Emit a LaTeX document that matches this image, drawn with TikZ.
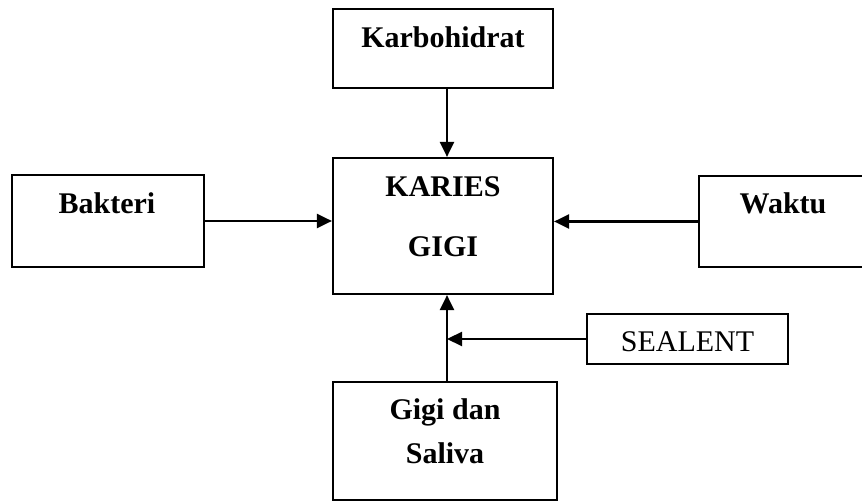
\documentclass[tikz,border=0pt]{standalone}
\usepackage{fontspec}
\setmainfont{Liberation Serif}
\usetikzlibrary{positioning,arrows.meta}

\tikzset{
  box/.style={draw, line width=1.1pt, inner sep=0pt},
  arr/.style={line width=1.1pt, -{Triangle[length=7.5pt,width=7pt]}},
  lbl/.style={font=\fontsize{15}{18}\selectfont\bfseries, align=center, inner sep=0pt}
}

\begin{document}
\begin{tikzpicture}[x=0.5pt, y=-0.5pt]
\useasboundingbox (0,0) rectangle (862,501);

\def\xm{443}
\def\xl{447}

\node[box, minimum width=110pt, minimum height=39.5pt] (karbo) at (\xm, 48.5) {};
\node[box, minimum width=110pt, minimum height=68pt] (karies) at (\xm, 226) {};
\node[box, minimum width=96pt, minimum height=46pt] (bakteri) at (108, 221) {};
\node[box, minimum width=83.5pt, minimum height=45.5pt] (waktu) at (782.5, 221.5) {};
\node[box, minimum width=100.5pt, minimum height=25pt] (sealent) at (687.5, 339) {};
\node[box, minimum width=112pt, minimum height=59pt] (gigi) at (445, 441) {};

\node[lbl] at (\xm, 37) {Karbohidrat};
\node[lbl] at (\xm, 187) {KARIES};
\node[lbl] at (\xm, 247) {GIGI};
\node[lbl] at (107, 203) {Bakteri};
\node[lbl] at (783, 203) {Waktu};
\node[lbl, font=\fontsize{15}{18}\selectfont] at (687.5, 342) {SEALENT};
\node[lbl] at (445, 412) {Gigi dan};
\node[lbl] at (445, 453) {Saliva};

\coordinate (up) at (\xl, 382);

\draw[arr] (karbo.south -| up) -- (karies.north -| up);
\draw[arr] (bakteri.east) -- (bakteri.east -| karies.west);
\draw[arr] (waktu.west) -- (waktu.west -| karies.east);
\draw[arr] (up) -- (karies.south -| up);
\draw[arr] (sealent.west) -- (sealent.west -| up);

\end{tikzpicture}
\end{document}
